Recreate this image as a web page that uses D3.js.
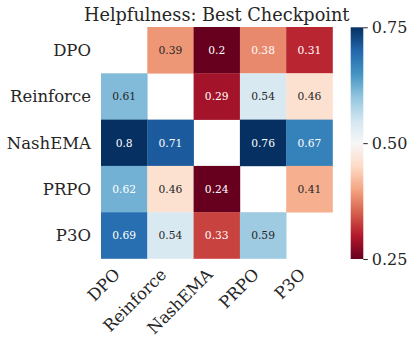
<!DOCTYPE html>
<html><head><meta charset="utf-8">
<script src="https://cdn.jsdelivr.net/npm/d3@7"></script>
<style>
html,body{margin:0;padding:0;background:#fff;}
text{font-family:"DejaVu Serif",serif;}
</style></head>
<body><svg id="c" width="417" height="347"></svg>
<script>
const rows = ["DPO","Reinforce","NashEMA","PRPO","P3O"];
const cols = ["DPO","Reinforce","NashEMA","PRPO","P3O"];
const valDPO = [null,0.39,0.2,0.38,0.31];
const valReinforce = [0.61,null,0.29,0.54,0.46];
const valNashEMA = [0.8,0.71,null,0.76,0.67];
const valPRPO = [0.62,0.46,0.24,null,0.41];
const valP3O = [0.69,0.54,0.33,0.59,null];
const values = [valDPO,valReinforce,valNashEMA,valPRPO,valP3O];
const cbarTicks = [0.25,0.5,0.75];
const title = "Helpfulness: Best Checkpoint";

const rdbu = ["#67001f","#b2182b","#d6604d","#f4a582","#fddbc7","#f7f7f7","#d1e5f0","#92c5de","#4393c3","#2166ac","#053061"];
const vmin=0.25,vmax=0.75;
const color = d3.scaleLinear()
  .domain(rdbu.map((c,i)=>vmin+(vmax-vmin)*i/(rdbu.length-1)))
  .range(rdbu).interpolate(d3.interpolateRgb).clamp(true);

const svg = d3.select("#c");
const L=101, R=332.5, T=27, B=258.5;
const x = d3.scaleBand().domain(cols).range([L,R]);
const y = d3.scaleBand().domain(rows).range([T,B]);
const ink="#262626";

function lum(c){
  const r=d3.rgb(c);
  const f=v=>{v/=255;return v<=0.03928?v/12.92:Math.pow((v+0.055)/1.055,2.4);};
  return 0.2126*f(r.r)+0.7152*f(r.g)+0.0722*f(r.b);
}

const cells=[];
values.forEach((row,i)=>row.forEach((v,j)=>{ if(v!==null) cells.push({r:rows[i],c:cols[j],v}); }));

svg.append("g").selectAll("rect").data(cells).join("rect")
  .attr("x",d=>x(d.c)).attr("y",d=>y(d.r))
  .attr("width",x.bandwidth()+0.3).attr("height",y.bandwidth()+0.3)
  .attr("fill",d=>color(d.v));

svg.append("g").selectAll("text").data(cells).join("text")
  .attr("x",d=>x(d.c)+x.bandwidth()/2).attr("y",d=>y(d.r)+y.bandwidth()/2)
  .attr("text-anchor","middle").attr("dy","0.36em")
  .attr("font-size",10.7)
  .attr("fill",d=>lum(color(d.v))>0.408?ink:"#ffffff")
  .text(d=>String(d.v));

// y labels
svg.append("g").selectAll("text").data(rows).join("text")
  .attr("x",L-10).attr("y",d=>y(d)+y.bandwidth()/2)
  .attr("text-anchor","end").attr("dy","0.36em")
  .attr("font-size",16.5).attr("fill",ink).text(d=>d);

// x labels
svg.append("g").selectAll("text").data(cols).join("text")
  .attr("transform",d=>`translate(${x(d)+x.bandwidth()/2-3},${B+17}) rotate(-45)`)
  .attr("text-anchor","end")
  .attr("font-size",16.5).attr("fill",ink).text(d=>d);

// title
svg.append("text").attr("x",(L+R)/2).attr("y",20.5).attr("text-anchor","middle")
  .attr("font-size",17.7).attr("fill",ink).text(title);

// colorbar
const cbL=350.7, cbW=12.6, cbT=27.3, cbB=259;
const defs=svg.append("defs");
const grad=defs.append("linearGradient").attr("id","g").attr("x1",0).attr("y1",1).attr("x2",0).attr("y2",0);
rdbu.forEach((c,i)=>grad.append("stop").attr("offset",i/(rdbu.length-1)).attr("stop-color",c));
svg.append("rect").attr("x",cbL).attr("y",cbT).attr("width",cbW).attr("height",cbB-cbT).attr("fill","url(#g)");
const cy=d3.scaleLinear().domain([vmin,vmax]).range([cbB,cbT]);
const ax=svg.append("g").attr("transform",`translate(${cbL+cbW},0)`)
  .call(d3.axisRight(cy).tickValues(cbarTicks).tickFormat(d3.format(".2f")).tickSize(4.5).tickPadding(4));
ax.select(".domain").remove();
ax.selectAll("line").attr("stroke",ink).attr("stroke-width",1);
ax.selectAll("text").attr("font-size",16).attr("fill",ink).attr("font-family","DejaVu Serif");
</script></body></html>
